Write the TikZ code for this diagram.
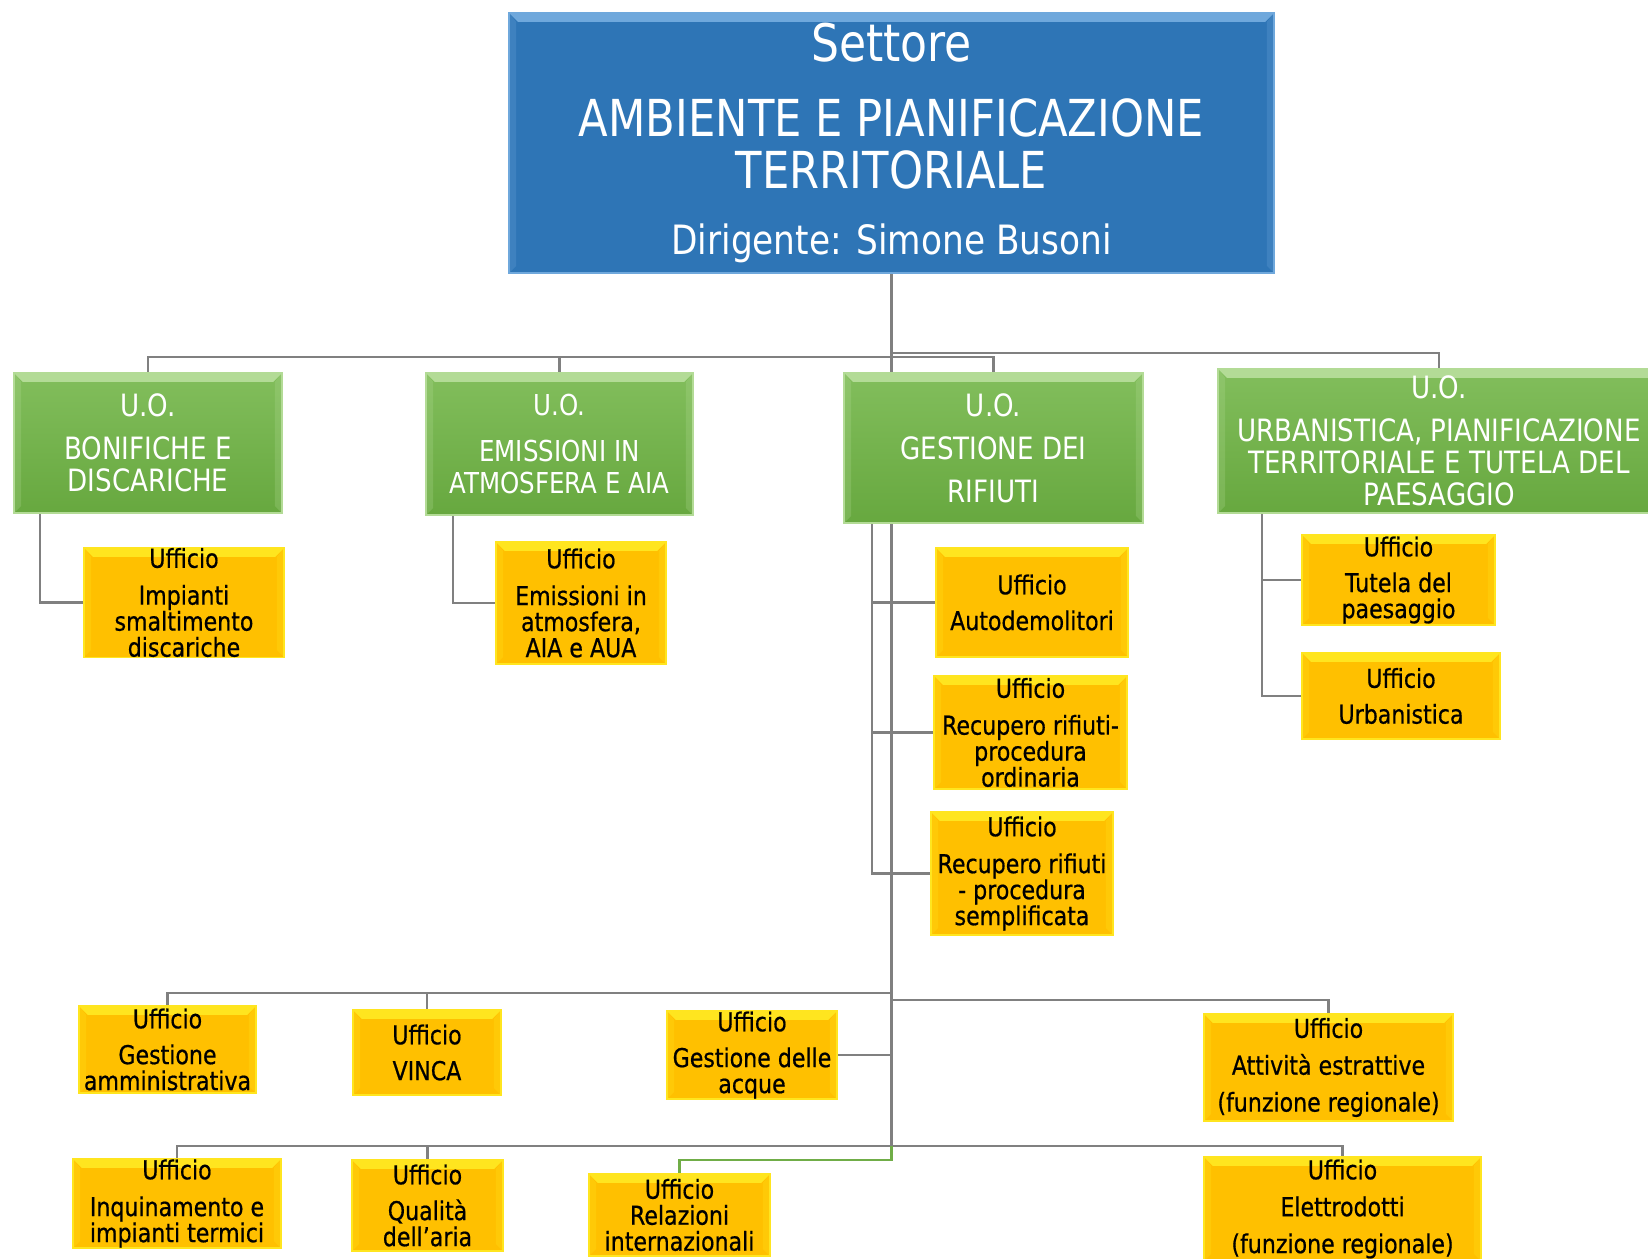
\documentclass[tikz,border=0pt]{standalone}
\usepackage{fontspec}
\setmainfont[FakeStretch=0.85]{DejaVu Sans}
\newfontfamily\uffont[Ligatures=TeX,FakeStretch=0.85,FakeBold=0.6]{DejaVu Sans}
\usetikzlibrary{backgrounds}

\definecolor{setblue}{HTML}{2E75B6}
\definecolor{setbevel}{HTML}{6FA8DC}
\definecolor{uotop}{HTML}{82BE5C}
\definecolor{uobot}{HTML}{67A83F}
\definecolor{uobevel}{HTML}{B3DB96}
\definecolor{uffyellow}{HTML}{FFC000}
\definecolor{uffbevel}{HTML}{FFE51F}
\definecolor{linegray}{HTML}{808080}
\definecolor{linegreen}{HTML}{70AD47}

\tikzset{
  bevel/.style={path picture={
    \fill[#1] (path picture bounding box.north west) -- (path picture bounding box.north east)
      -- ([shift={(-5pt,-5pt)}]path picture bounding box.north east)
      -- ([shift={(5pt,-5pt)}]path picture bounding box.north west) -- cycle;
    \fill[#1,opacity=.25] (path picture bounding box.north west) -- ([shift={(4pt,-5pt)}]path picture bounding box.north west)
      -- ([shift={(4pt,4pt)}]path picture bounding box.south west) -- (path picture bounding box.south west) -- cycle;
    \fill[#1,opacity=.25] (path picture bounding box.north east) -- ([shift={(-4pt,-5pt)}]path picture bounding box.north east)
      -- ([shift={(-4pt,4pt)}]path picture bounding box.south east) -- (path picture bounding box.south east) -- cycle;
  }},
  wh/.style 2 args={minimum width=#1*0.02cm, minimum height=#2*0.02cm},
  settore/.style={rectangle, fill=setblue, bevel=setbevel, draw=setbevel, line width=.6pt, text=white,
    align=center, inner sep=0pt, font=\fontsize{29}{30}\selectfont},
  uo/.style={rectangle, top color=uotop, bottom color=uobot, bevel=uobevel, draw=uobevel, line width=.6pt,
    text=white, align=center, inner sep=0pt, font=\fontsize{17.5}{18.3}\selectfont},
  ufficio/.style={rectangle, fill=uffyellow, bevel=uffbevel, draw=uffbevel, line width=.6pt, text=black,
    align=center, inner sep=0pt, font=\uffont\fontsize{14.8}{14.8}\selectfont},
  conn/.style={draw=linegray, line width=1.6pt},
}

\begin{document}
\begin{tikzpicture}[x=0.02cm, y=-0.02cm]
\useasboundingbox (0,0) rectangle (1648,1258);

% settore
\node[settore, wh={765}{260}] (sett) at (891.5,143) {{\fontsize{29.5}{30}\selectfont Settore}\\[12.7pt]
  AMBIENTE E PIANIFICAZIONE\\ TERRITORIALE\\[7.6pt] {\fontsize{23}{30}\selectfont Dirigente: Simone Busoni}};

% unita' operative
\node[uo, wh={268}{140}] (g1) at (148,443) {U.O.\\[6pt] BONIFICHE E\\ DISCARICHE};
\node[uo, wh={267}{142}, font=\fontsize{16.4}{18.2}\selectfont] (g2) at (559.5,444) {U.O.\\[8pt] EMISSIONI IN\\ ATMOSFERA E AIA};
\node[uo, wh={299}{150}] (g3) at (993.5,448) {U.O.\\[6.5pt] GESTIONE DEI\\[6pt] RIFIUTI};
\node[uo, wh={442}{144}] (g4) at (1439,441) {U.O.\\[6pt] URBANISTICA, PIANIFICAZIONE\\ TERRITORIALE E TUTELA DEL\\ PAESAGGIO};

% uffici sotto le U.O.
\node[ufficio, wh={200}{109}] (y1) at (184,602.5) {Ufficio\\[6.2pt] Impianti\\ smaltimento\\ discariche};
\node[ufficio, wh={170}{122}] (y2) at (581,603) {Ufficio\\[6.2pt] Emissioni in\\ atmosfera,\\ AIA e AUA};
\node[ufficio, wh={192}{109}] (y3) at (1032,602.5) {Ufficio\\[5.6pt] Autodemolitori};
\node[ufficio, wh={193}{113}] (y4) at (1030.5,732.5) {Ufficio\\[6.2pt] Recupero rifiuti-\\ procedura\\ ordinaria};
\node[ufficio, wh={182}{123}] (y5) at (1022,873.5) {Ufficio\\[6.2pt] Recupero rifiuti\\ - procedura\\ semplificata};
\node[ufficio, wh={193}{90}] (y6) at (1398.5,580) {Ufficio\\[5.6pt] Tutela del\\ paesaggio};
\node[ufficio, wh={198}{86}] (y7) at (1401,696) {Ufficio\\[5.6pt] Urbanistica};

% uffici del settore
\node[ufficio, wh={177}{87}] (y8) at (167.5,1049.5) {Ufficio\\[5.6pt] Gestione\\ amministrativa};
\node[ufficio, wh={148}{85}] (y9) at (427,1052.5) {Ufficio\\[5.6pt] VINCA};
\node[ufficio, wh={170}{88}] (y10) at (752,1055) {Ufficio\\[5.6pt] Gestione delle\\ acque};
\node[ufficio, wh={249}{107}] (y11) at (1328.5,1067.5) {Ufficio\\[6.2pt] Attività estrattive\\[6.2pt] (funzione regionale)};
\node[ufficio, wh={208}{89}] (y12) at (177,1203.5) {Ufficio\\[6.2pt] Inquinamento e\\ impianti termici};
\node[ufficio, wh={151}{91}] (y13) at (427.5,1205.5) {Ufficio\\[5.6pt] Qualità\\ dell'aria};
\node[ufficio, wh={181}{82}] (y14) at (679.5,1215) {Ufficio\\ Relazioni\\ internazionali};
\node[ufficio, wh={277}{104}] (y15) at (1342.5,1209) {Ufficio\\[6.2pt] Elettrodotti\\[6.2pt] (funzione regionale)};

\begin{pgfonlayer}{background}
\coordinate (bus1) at (891.5,357);
\coordinate (bus2) at (891.5,353);
\draw[conn] (sett.south) -- (bus1) -| (g1.north);
\draw[conn] (bus1) -| (g2.north);
\draw[conn] (bus1) -| (g3.north);
\draw[conn] (bus2) -| (g4.north);
%\draw[conn] (g1) -- (y1);
\coordinate (s1) at (40,513);
\coordinate (s2) at (453,515);
\coordinate (s3) at (872,523);
\coordinate (s4) at (1262,513);
\draw[conn] (s1) |- (y1);
\draw[conn] (s2) |- (y2);
\draw[conn] (s3) |- (y3);
\draw[conn] (s3) |- (y4);
\draw[conn] (s3) |- (y5);
\draw[conn] (s4) |- (y6);
\draw[conn] (s4) |- (y7);
% linea verticale principale
\coordinate (busA) at (891.5,993);
\coordinate (busA2) at (891.5,1000);
\coordinate (busB) at (891.5,1146);
\coordinate (busG) at (891.5,1160);
\draw[conn] (bus1) -- (busB);
\draw[conn] (busA) -| (y8.north);
\draw[conn] (busA) -| (y9.north);
\draw[conn] (busA) |- (y10);
\draw[conn] (busA2) -| (y11.north);
\draw[conn] (busB) -| (y12.north);
\draw[conn] (busB) -| (y13.north);
\draw[conn] (busB) -| (y15.north);
\draw[conn, draw=linegreen] (busB) -- (busG) -| (y14.north);
\end{pgfonlayer}
\end{tikzpicture}
\end{document}
